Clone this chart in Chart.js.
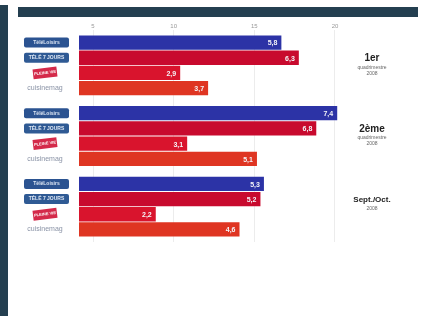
<!DOCTYPE html>
<html>
<head>
<meta charset="utf-8">
<script src="https://cdn.jsdelivr.net/npm/chart.js@4/dist/chart.umd.min.js"></script>
<style>
    body { margin: 0; background: #fff; }
    #wrap { position: relative; width: 422px; height: 316px; overflow: hidden; }
    #sideBar { position: absolute; left: 0; top: 5px; width: 8px; height: 311px; background: #243f50; }
    #topBar { position: absolute; left: 18px; top: 7px; width: 400px; height: 10px; background: #243f50; }
    canvas { position: absolute; left: 0; top: 0; }
</style>
</head>
<body>
<div id="wrap">
    <div id="sideBar"></div>
    <div id="topBar"></div>
    <canvas id="barChart" width="422" height="316"></canvas>
</div>
<script>
// Periods (groups) and their sub-captions
const periods = ['1er', '2ème', 'Sept./Oct.'];
const periodNotes = [['quadrimestre', '2008'], ['quadrimestre', '2008'], ['2008']];

// Publications, one series each
const titles = ['TéléLoisirs', 'TÉLÉ 7 JOURS', 'PLEINE VIE', 'cuisinemag'];
const teleLoisirs = [5.8, 7.4, 5.3];
const tele7Jours = [6.3, 6.8, 5.2];
const pleineVie = [2.9, 3.1, 2.2];
const cuisineMag = [3.7, 5.1, 4.6];

// Top axis tick labels
const topTicks = [5, 10, 15, 20];

const barColors = ['#2c33a6', '#c80a2e', '#d9142d', '#df3522'];

function fmt(v) {
    return v.toFixed(1).replace('.', ',');
}

// Value labels inside bar ends, logos on the left, period captions on the right
const decorPlugin = {
    id: 'decor',
    afterDatasetsDraw(chart) {
        const ctx = chart.ctx;
        ctx.save();
        chart.data.datasets.forEach((ds, i) => {
            const meta = chart.getDatasetMeta(i);
            meta.data.forEach((bar, j) => {
                ctx.fillStyle = '#f4f4f8';
                ctx.font = 'bold 7px "Liberation Sans"';
                ctx.textAlign = 'right';
                ctx.textBaseline = 'middle';
                ctx.fillText(fmt(ds.data[j]), bar.x - 4, bar.y + 1);
                drawLogo(ctx, i, bar.y);
            });
        });
        const yScale = chart.scales.y;
        periods.forEach((p, j) => {
            const y = yScale.getPixelForValue(j) - 7;
            ctx.fillStyle = '#222';
            ctx.textAlign = 'center';
            ctx.textBaseline = 'middle';
            ctx.font = j === 2 ? 'bold 8px "Liberation Sans"' : 'bold 10px "Liberation Sans"';
            ctx.fillText(p, 372, y);
            ctx.font = '5px "Liberation Sans"';
            ctx.fillStyle = '#666';
            periodNotes[j].forEach((n, k) => ctx.fillText(n, 372, y + 9 + k * 6));
        });
        ctx.restore();
    }
};

function drawLogo(ctx, i, y) {
    ctx.textAlign = 'center';
    ctx.textBaseline = 'middle';
    if (i === 0 || i === 1) {
        ctx.fillStyle = i === 0 ? '#2b5391' : '#2f5a94';
        ctx.beginPath();
        ctx.roundRect(24, y - 5, 45, 10, 2);
        ctx.fill();
        ctx.fillStyle = '#dfe8f5';
        ctx.font = 'bold 5px "Liberation Sans"';
        ctx.fillText(titles[i], 46.5, y);
    } else if (i === 2) {
        ctx.save();
        ctx.translate(45, y);
        ctx.rotate(-0.12);
        ctx.fillStyle = '#d42a4a';
        ctx.fillRect(-12, -5, 24, 10);
        ctx.fillStyle = '#fff';
        ctx.font = 'bold 4px "Liberation Sans"';
        ctx.fillText(titles[i], 0, 0);
        ctx.restore();
    } else {
        ctx.fillStyle = '#8a93a6';
        ctx.font = '7px "Liberation Sans"';
        ctx.fillText(titles[i], 45, y);
    }
}

const seriesData = [teleLoisirs, tele7Jours, pleineVie, cuisineMag];

new Chart(document.getElementById('barChart').getContext('2d'), {
    type: 'bar',
    data: {
        labels: periods,
        datasets: titles.map((t, i) => ({
            label: t,
            data: seriesData[i],
            backgroundColor: barColors[i],
            xAxisID: 'x',
            categoryPercentage: 0.86,
            barPercentage: 0.94
        }))
    },
    options: {
        indexAxis: 'y',
        responsive: false,
        animation: false,
        layout: { padding: { left: 79, right: 82, top: 0, bottom: 74 } },
        plugins: { legend: { display: false }, tooltip: { enabled: false } },
        scales: {
            x: { type: 'linear', min: 0, max: 7.48, display: false },
            x2: {
                type: 'linear',
                position: 'top',
                min: 4.13,
                max: 20.31,
                afterBuildTicks: scale => { scale.ticks = topTicks.map(v => ({ value: v })); },
                afterFit: scale => { scale.height = 30; },
                grid: { color: '#ececec', drawTicks: false },
                border: { display: false },
                ticks: { color: '#999', padding: 0, font: { size: 6, family: 'Liberation Sans' } }
            },
            y: { type: 'category', display: false }
        }
    },
    plugins: [decorPlugin]
});
</script>
</body>
</html>
